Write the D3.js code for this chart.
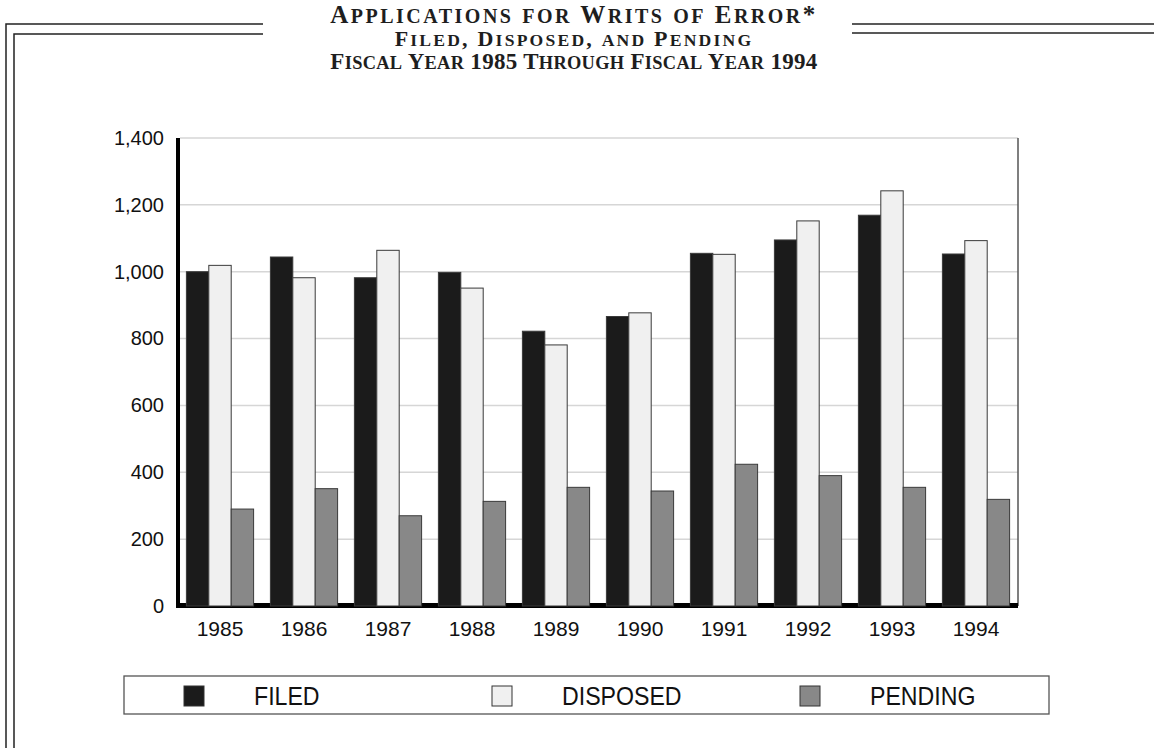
<!DOCTYPE html>
<html>
<head>
<meta charset="utf-8">
<script src="https://cdn.jsdelivr.net/npm/d3@7"></script>
<style>
  body { margin: 0; background: #fff; }
  svg { display: block; }
  .title { font-family: "Liberation Serif", "Times New Roman", serif; font-weight: bold; fill: #1e1e1e; }
  .tick text { font-family: "Liberation Sans", Arial, sans-serif; fill: #111; }
  .legend-label { font-family: "Liberation Sans", Arial, sans-serif; fill: #111; }
</style>
</head>
<body>
<div id="chart"></div>
<script>
// data
const years = ["1985", "1986", "1987", "1988", "1989", "1990", "1991", "1992", "1993", "1994"];
const seriesNames = ["FILED", "DISPOSED", "PENDING"];
const filed = [1000, 1044, 982, 998, 822, 866, 1055, 1095, 1169, 1053];
const disposed = [1019, 982, 1064, 951, 781, 877, 1052, 1152, 1242, 1093];
const pending = [290, 351, 270, 313, 355, 344, 424, 390, 355, 319];
const yTicks = [0, 200, 400, 600, 800, 1000, 1200, 1400];
const titleLines = ["Applications for Writs of Error*", "Filed, Disposed, and Pending", "Fiscal Year 1985 Through Fiscal Year 1994"];

const width = 1154;
const height = 748;
const colors = ["#1b1b1b", "#f0f0f0", "#888888"];

const rows = years.map((yr, i) => ({ year: yr, values: [filed[i], disposed[i], pending[i]] }));

const svg = d3.select("#chart")
    .append("svg")
    .attr("width", width)
    .attr("height", height);

// double frame around the page
const frame = svg.append("g")
    .attr("fill", "none")
    .attr("stroke", "#222")
    .attr("stroke-width", 1.5);
frame.append("path").attr("d", "M6,748 V24 H263");
frame.append("path").attr("d", "M14,748 V34 H263");
frame.append("path").attr("d", "M852,24 H1154");
frame.append("path").attr("d", "M852,33 H1154");

// titles: hand made small caps (lower case letters drawn as smaller capitals)
const titleSizes = [25, 22, 23];
const titleSpacing = [2.5, 2.2, 0.3];
const titleY = [23, 46, 69];
const smallCap = 0.8;

function splitRuns(s) {
    const runs = [];
    for (const ch of s) {
        const low = ch !== ch.toUpperCase();
        const last = runs[runs.length - 1];
        if (last && last.low === low) last.t += ch;
        else runs.push({ t: ch, low: low });
    }
    return runs;
}

const titles = svg.selectAll(".title")
    .data(titleLines)
    .join("text")
    .attr("class", "title")
    .attr("x", 574)
    .attr("y", (d, i) => titleY[i])
    .attr("text-anchor", "middle")
    .attr("letter-spacing", (d, i) => titleSpacing[i]);

titles.each(function(d, i) {
    d3.select(this).selectAll("tspan")
        .data(splitRuns(d))
        .join("tspan")
        .attr("font-size", r => r.low ? titleSizes[i] * smallCap : titleSizes[i])
        .text(r => r.t.toUpperCase());
});

// scales
const x = d3.scaleBand()
    .domain(years)
    .range([178, 1018])
    .paddingInner(0.2)
    .paddingOuter(0.1);

const xs = d3.scaleBand()
    .domain(seriesNames)
    .range([0, x.bandwidth()]);

const y = d3.scaleLinear()
    .domain([0, 1400])
    .range([606, 138]);

// gridlines
svg.append("g")
    .selectAll("line")
    .data(yTicks.filter(d => d > 0))
    .join("line")
    .attr("x1", 180)
    .attr("x2", 1018)
    .attr("y1", d => y(d))
    .attr("y2", d => y(d))
    .attr("stroke", "#d6d6d6")
    .attr("stroke-width", 1.5);

// right border of plot
svg.append("line")
    .attr("x1", 1018).attr("x2", 1018)
    .attr("y1", y(1400)).attr("y2", y(0))
    .attr("stroke", "#555")
    .attr("stroke-width", 1.5);

// floor
svg.append("rect")
    .attr("x", 178)
    .attr("y", y(0) - 3)
    .attr("width", 1018 - 178)
    .attr("height", 5)
    .attr("fill", "#000");

// bars
const groups = svg.append("g")
    .selectAll("g")
    .data(rows)
    .join("g")
    .attr("transform", d => "translate(" + x(d.year) + ",0)");

groups.selectAll("rect")
    .data(d => d.values.map((v, i) => ({ key: seriesNames[i], value: v, i: i })))
    .join("rect")
    .attr("x", d => xs(d.key))
    .attr("y", d => y(d.value))
    .attr("width", xs.bandwidth())
    .attr("height", d => y(0) - y(d.value))
    .attr("fill", d => colors[d.i])
    .attr("stroke", "#3a3a3a")
    .attr("stroke-width", 1);

// left axis
const yAxis = svg.append("g")
    .attr("transform", "translate(178,0)")
    .call(d3.axisLeft(y).tickValues(yTicks).tickSize(0).tickPadding(14).tickFormat(d3.format(",")));
yAxis.select(".domain").remove();
yAxis.selectAll("text").attr("font-size", 20);

svg.append("line")
    .attr("x1", 178).attr("x2", 178)
    .attr("y1", y(1400)).attr("y2", y(0) + 2)
    .attr("stroke", "#000")
    .attr("stroke-width", 4);

// bottom axis
const xAxis = svg.append("g")
    .attr("transform", "translate(0," + y(0) + ")")
    .call(d3.axisBottom(x).tickSize(0).tickPadding(15));
xAxis.select(".domain").remove();
xAxis.selectAll("text").attr("font-size", 21);

// legend
const legend = svg.append("g");
legend.append("rect")
    .attr("x", 124)
    .attr("y", 676)
    .attr("width", 925)
    .attr("height", 38)
    .attr("fill", "#fff")
    .attr("stroke", "#555")
    .attr("stroke-width", 1.3);

const legendItems = legend.selectAll(".legend-item")
    .data(seriesNames)
    .join("g")
    .attr("class", "legend-item")
    .attr("transform", (d, i) => "translate(" + (184 + i * 308) + ",686)");

legendItems.append("rect")
    .attr("width", 20)
    .attr("height", 20)
    .attr("fill", (d, i) => colors[i])
    .attr("stroke", "#333")
    .attr("stroke-width", 1);

// the original face is a narrow geometric sans, so squeeze the text a little
legendItems.append("text")
    .attr("class", "legend-label")
    .attr("transform", "translate(70,19) scale(0.89,1)")
    .attr("font-size", 26)
    .text(d => d);
</script>
</body>
</html>
